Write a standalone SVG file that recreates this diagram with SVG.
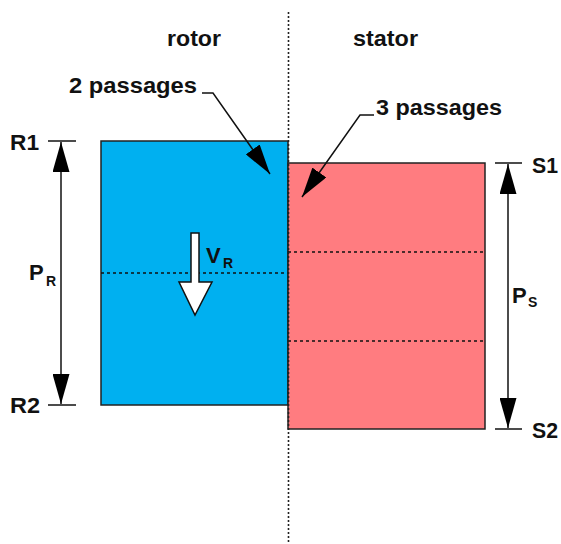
<svg xmlns="http://www.w3.org/2000/svg" width="561" height="544" viewBox="0 0 561 544">
<defs>
<style>
.t{font-family:"Liberation Sans",Arial,sans-serif;font-weight:bold;font-size:22px;fill:#111}
.sub{font-family:"Liberation Sans",Arial,sans-serif;font-weight:bold;font-size:14px;fill:#111}
.ln{stroke:#111;stroke-width:1.5;fill:none}
.dash{stroke:#111;stroke-width:1.4;stroke-dasharray:3 3;fill:none}
.dot{stroke:#222;stroke-width:1.6;stroke-dasharray:2 2;fill:none}
</style>
<marker id="ah" markerUnits="userSpaceOnUse" viewBox="0 0 30 17" refX="30" refY="8.5" markerWidth="30" markerHeight="17" orient="auto-start-reverse">
<path d="M0,0 L30,8.5 L0,17 Z" fill="#000"/>
</marker>
</defs>
<rect width="561" height="544" fill="#fff"/>
<g id="rotor">
<rect x="101" y="141" width="187" height="264" fill="#00b0f0" stroke="#222" stroke-width="1.5"/>
<line class="dash" x1="101" y1="273" x2="288" y2="273"/>
</g>
<g id="stator">
<rect x="288" y="163" width="197" height="266" fill="#ff7c80" stroke="#222" stroke-width="1.5"/>
<line class="dash" x1="288" y1="252" x2="485" y2="252"/>
<line class="dash" x1="288" y1="341" x2="485" y2="341"/>
</g>
<g id="divider">
<line class="dot" x1="288.5" y1="12" x2="288.5" y2="544"/>
</g>
<g id="velocity">
<path d="M191,233 L199,233 L199,282 L212,282 L195,315 L179,282 L191,282 Z" fill="#fff" stroke="#111" stroke-width="1.5"/>
<text class="t" x="206" y="263">V</text>
<text class="sub" x="223" y="268">R</text>
</g>
<g id="connectors">
<line class="ln" x1="48" y1="141" x2="76" y2="141"/>
<line class="ln" x1="48" y1="405" x2="76" y2="405"/>
<line class="ln" x1="61" y1="142" x2="61" y2="404" marker-start="url(#ah)" marker-end="url(#ah)"/>
<line class="ln" x1="495" y1="163" x2="522" y2="163"/>
<line class="ln" x1="495" y1="429" x2="522" y2="429"/>
<line class="ln" x1="508" y1="164" x2="508" y2="428" marker-start="url(#ah)" marker-end="url(#ah)"/>
<polyline class="ln" points="202,93 213,93 270,174" marker-end="url(#ah)"/>
<polyline class="ln" points="374,115 360,115 302,197" marker-end="url(#ah)"/>
</g>
<g id="labels">
<text class="t" x="167" y="46" textLength="54" lengthAdjust="spacingAndGlyphs">rotor</text>
<text class="t" x="353" y="46" textLength="65" lengthAdjust="spacingAndGlyphs">stator</text>
<text class="t" x="69" y="93" textLength="128" lengthAdjust="spacingAndGlyphs">2 passages</text>
<text class="t" x="376" y="115" textLength="126" lengthAdjust="spacingAndGlyphs">3 passages</text>
<text class="t" x="10" y="150" textLength="29" lengthAdjust="spacingAndGlyphs">R1</text>
<text class="t" x="10" y="413" textLength="30" lengthAdjust="spacingAndGlyphs">R2</text>
<text class="t" x="532" y="173" textLength="26" lengthAdjust="spacingAndGlyphs">S1</text>
<text class="t" x="532" y="438" textLength="26" lengthAdjust="spacingAndGlyphs">S2</text>
<text class="t" x="29" y="280">P</text>
<text class="sub" x="46" y="286">R</text>
<text class="t" x="512" y="303">P</text>
<text class="sub" x="528" y="307">S</text>
</g>
</svg>
